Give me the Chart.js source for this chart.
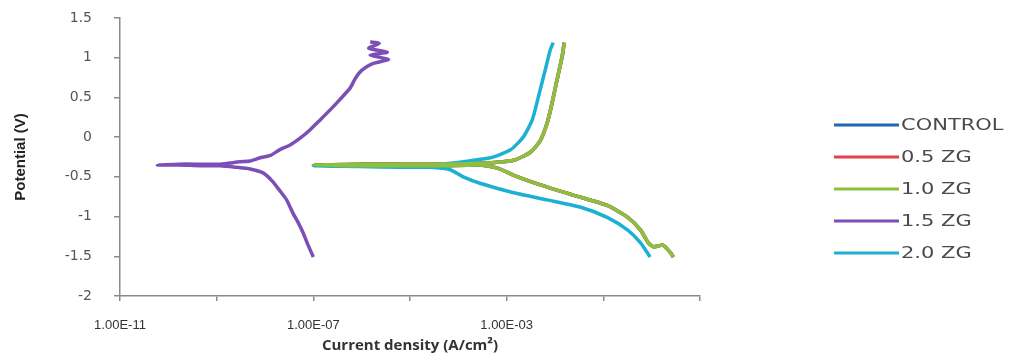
<!DOCTYPE html>
<html>
<head>
<meta charset="utf-8">
<script src="https://cdn.jsdelivr.net/npm/chart.js@4.4.1/dist/chart.umd.min.js"></script>
<style>
  html, body { margin: 0; padding: 0; background: #fff; }
  canvas { display: block; }
</style>
</head>
<body>
<canvas id="tafel" width="1021" height="358"></canvas>
<script>
// series names and colours
const seriesNames = ['CONTROL', '0.5 ZG', '1.0 ZG', '1.5 ZG', '2.0 ZG'];
const seriesColors = ['#2068b0', '#e3414b', '#8dc03c', '#7b4fb5', '#1cb0d2'];

// axis ticks
const xTickValues = [1e-11, 1e-9, 1e-7, 1e-5, 1e-3, 1e-1, 1e1];
const xTickLabels = ['1.00E-11', '', '1.00E-07', '', '1.00E-03', '', ''];
const yTickValues = [1.5, 1, 0.5, 0, -0.5, -1, -1.5, -2];

// current density (A/cm2) and potential (V), cathodic end -> Ecorr -> anodic end
const controlI = [2.8, 2.5, 1.7, 1.1, 0.85, 0.59, 0.32, 0.12, 0.024, 5.0e-3, 1.4e-3, 6.5e-4, 2.8e-4, 4.3e-5, 6.3e-6, 9.3e-7, 1.0e-7,
  9.3e-7, 6.3e-6, 4.3e-5, 2.8e-4, 1.4e-3, 3.1e-3, 5.0e-3, 6.9e-3, 8.7e-3, 0.011, 0.014, 0.0155];
const controlE = [-1.51, -1.46, -1.36, -1.38, -1.33, -1.17, -1.01, -0.86, -0.73, -0.60, -0.48, -0.39, -0.35, -0.36, -0.36, -0.36, -0.35,
  -0.34, -0.34, -0.34, -0.33, -0.29, -0.19, -0.04, 0.18, 0.43, 0.72, 1.01, 1.19];

const zg05I = [2.8, 2.5, 1.7, 1.1, 0.85, 0.59, 0.32, 0.12, 0.024, 5.0e-3, 1.4e-3, 6.5e-4, 2.8e-4, 4.3e-5, 6.3e-6, 9.3e-7, 1.0e-7,
  9.3e-7, 6.3e-6, 4.3e-5, 2.8e-4, 1.4e-3, 3.1e-3, 5.0e-3, 6.9e-3, 8.7e-3, 0.011, 0.014, 0.0155];
const zg05E = [-1.51, -1.46, -1.36, -1.38, -1.33, -1.17, -1.01, -0.86, -0.73, -0.60, -0.48, -0.39, -0.35, -0.36, -0.36, -0.36, -0.35,
  -0.34, -0.34, -0.34, -0.33, -0.29, -0.19, -0.04, 0.18, 0.43, 0.72, 1.01, 1.19];

const zg10I = [2.8, 2.5, 1.7, 1.1, 0.85, 0.59, 0.32, 0.12, 0.024, 5.0e-3, 1.4e-3, 6.5e-4, 2.8e-4, 4.3e-5, 6.3e-6, 9.3e-7, 1.0e-7,
  9.3e-7, 6.3e-6, 4.3e-5, 2.8e-4, 1.4e-3, 3.1e-3, 5.0e-3, 6.9e-3, 8.7e-3, 0.011, 0.014, 0.0155];
const zg10E = [-1.51, -1.46, -1.36, -1.38, -1.33, -1.17, -1.01, -0.86, -0.73, -0.60, -0.48, -0.39, -0.35, -0.36, -0.36, -0.36, -0.35,
  -0.34, -0.34, -0.34, -0.33, -0.29, -0.19, -0.04, 0.18, 0.43, 0.72, 1.01, 1.19];

const zg15I = [1.0e-7, 7.8e-8, 6.2e-8, 4.8e-8, 3.8e-8, 2.8e-8, 2.0e-8, 1.4e-8, 9.1e-9, 4.9e-9, 2.6e-9, 1.2e-9, 4.6e-10, 1.7e-10, 5.9e-11,
  1.7e-10, 4.6e-10, 1.2e-9, 3.0e-9, 4.9e-9, 7.9e-9, 1.3e-8, 2.0e-8, 3.3e-8, 5.4e-8, 8.5e-8, 1.4e-7, 2.2e-7, 3.5e-7, 5.8e-7, 7.4e-7,
  1.0e-6, 1.6e-6, 3.6e-6, 1.5e-6, 3.4e-6, 1.4e-6, 2.3e-6, 1.5e-6];
const zg15E = [-1.51, -1.36, -1.21, -1.07, -0.96, -0.79, -0.67, -0.55, -0.45, -0.40, -0.38, -0.36, -0.36, -0.35, -0.35,
  -0.34, -0.34, -0.34, -0.31, -0.30, -0.26, -0.23, -0.16, -0.10, -0.01, 0.09, 0.22, 0.34, 0.47, 0.62, 0.74,
  0.84, 0.92, 0.98, 1.03, 1.07, 1.12, 1.18, 1.20];

const zg20I = [0.93, 0.59, 0.32, 0.12, 0.033, 6.9e-3, 1.4e-3, 2.8e-4, 1.26e-4, 6.8e-5, 2.6e-5, 6.3e-6, 9.3e-7, 1.0e-7,
  9.3e-7, 6.3e-6, 4.3e-5, 4.6e-4, 1.2e-3, 2.2e-3, 3.4e-3, 4.5e-3, 6.3e-3, 8.0e-3, 9.2e-3];
const zg20E = [-1.51, -1.33, -1.17, -1.01, -0.88, -0.79, -0.70, -0.58, -0.50, -0.41, -0.38, -0.38, -0.37, -0.36,
  -0.35, -0.35, -0.34, -0.26, -0.16, 0.00, 0.22, 0.50, 0.85, 1.10, 1.19];

const seriesI = [controlI, zg05I, zg10I, zg15I, zg20I];
const seriesE = [controlE, zg05E, zg10E, zg15E, zg20E];
const drawOrder = [5, 4, 1, 2, 3];

const sideLegend = {
  id: 'sideLegend',
  afterDraw(chart) {
    const ctx = chart.ctx;
    chart.data.datasets.forEach((ds, i) => {
      const y = 125 + i * 32;
      ctx.save();
      ctx.strokeStyle = ds.borderColor;
      ctx.lineWidth = 3;
      ctx.beginPath();
      ctx.moveTo(834, y);
      ctx.lineTo(899, y);
      ctx.stroke();
      ctx.fillStyle = '#4a4a4a';
      ctx.font = '15px "DejaVu Sans"';
      ctx.textBaseline = 'middle';
      ctx.translate(901, y);
      ctx.scale(1.4, 1);
      ctx.fillText(ds.label, 0, 1);
      ctx.restore();
    });
  }
};

new Chart(document.getElementById('tafel'), {
  type: 'scatter',
  data: {
    datasets: seriesNames.map((name, i) => ({
      label: name,
      data: seriesI[i].map((v, j) => ({ x: v, y: seriesE[i][j] })),
      showLine: true,
      borderColor: seriesColors[i],
      backgroundColor: seriesColors[i],
      borderWidth: 3.5,
      pointRadius: 0,
      tension: 0.2,
      order: drawOrder[i]
    }))
  },
  options: {
    responsive: false,
    animation: false,
    layout: { padding: { left: 0, top: 18, right: 321, bottom: 0 } },
    plugins: { legend: { display: false }, tooltip: { enabled: false } },
    scales: {
      x: {
        type: 'logarithmic',
        min: 1e-11,
        max: 1e1,
        afterFit: s => { s.height = 62; },
        afterBuildTicks: s => { s.ticks = xTickValues.map(v => ({ value: v })); },
        border: { color: '#8a8a8a', width: 1.5 },
        grid: { drawOnChartArea: false, drawTicks: true, tickLength: 5, color: '#8a8a8a', lineWidth: 1.5 },
        ticks: {
          autoSkip: false, maxRotation: 0, padding: 17, color: '#333',
          font: { family: 'Liberation Sans', size: 13 },
          callback: (v, i) => xTickLabels[i]
        },
        title: {
          display: true, text: 'Current density (A/cm²)', color: '#333',
          font: { family: 'Open Sans', size: 15, weight: 'bold' },
          padding: { top: 2, bottom: 3 }
        }
      },
      y: {
        min: -2,
        max: 1.5,
        afterFit: s => { s.width = 120; s.paddingTop = 8; s.paddingBottom = 8; },
        afterBuildTicks: s => { s.ticks = yTickValues.map(v => ({ value: v })); },
        border: { color: '#8a8a8a', width: 1.5 },
        grid: { drawOnChartArea: false, drawTicks: true, tickLength: 6, color: '#8a8a8a', lineWidth: 1.5 },
        ticks: {
          padding: 22, color: '#555',
          font: { family: 'DejaVu Sans', size: 14 },
          callback: v => String(v)
        },
        title: {
          display: true, text: 'Potential (V)', color: '#222',
          font: { family: 'Liberation Sans', size: 15, weight: 'bold' },
          padding: { top: 12, bottom: 0 }
        }
      }
    }
  },
  plugins: [sideLegend]
});
</script>
</body>
</html>
